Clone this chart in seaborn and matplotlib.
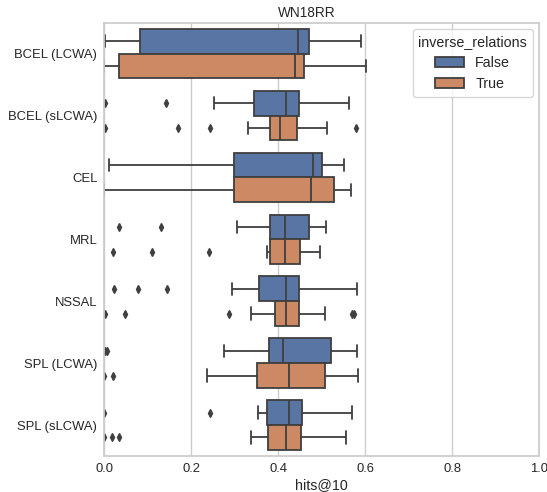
import matplotlib
matplotlib.use("Agg")
import matplotlib.pyplot as plt
import pandas as pd
import seaborn as sns

# hits@10 on WN18RR per loss / training approach, split by use of inverse relations
models = ["BCEL (LCWA)", "BCEL (sLCWA)", "CEL", "MRL", "NSSAL", "SPL (LCWA)", "SPL (sLCWA)"]
inverse_flags = [False, True]

bcel_lcwa_false = [0.001, 0.020, 0.045, 0.070, 0.083, 0.180, 0.300, 0.400, 0.445,
                   0.452, 0.458, 0.465, 0.471, 0.500, 0.530, 0.560, 0.591]
bcel_lcwa_true = [0.000, 0.008, 0.015, 0.025, 0.033, 0.120, 0.250, 0.360, 0.439,
                  0.444, 0.449, 0.455, 0.460, 0.490, 0.530, 0.570, 0.601]
bcel_slcwa_false = [0.002, 0.141, 0.251, 0.310, 0.345, 0.370, 0.390, 0.405, 0.418,
                    0.425, 0.432, 0.440, 0.447, 0.480, 0.510, 0.540, 0.563]
bcel_slcwa_true = [0.002, 0.169, 0.244, 0.330, 0.382, 0.390, 0.396, 0.400, 0.405,
                   0.415, 0.425, 0.435, 0.444, 0.470, 0.490, 0.511, 0.578]
cel_false = [0.011, 0.080, 0.160, 0.240, 0.297, 0.350, 0.400, 0.440, 0.480,
             0.485, 0.490, 0.495, 0.500, 0.515, 0.530, 0.540, 0.550]
cel_true = [0.000, 0.070, 0.150, 0.230, 0.297, 0.340, 0.390, 0.440, 0.474,
            0.490, 0.500, 0.515, 0.527, 0.540, 0.550, 0.560, 0.567]
mrl_false = [0.034, 0.130, 0.306, 0.350, 0.380, 0.390, 0.400, 0.410, 0.416,
             0.430, 0.445, 0.460, 0.470, 0.480, 0.490, 0.500, 0.510]
mrl_true = [0.020, 0.109, 0.241, 0.374, 0.382, 0.390, 0.400, 0.410, 0.416,
            0.425, 0.435, 0.440, 0.449, 0.460, 0.470, 0.485, 0.496]
nssal_false = [0.022, 0.077, 0.143, 0.294, 0.356, 0.370, 0.390, 0.405, 0.418,
               0.425, 0.435, 0.440, 0.448, 0.480, 0.510, 0.550, 0.580]
nssal_true = [0.002, 0.047, 0.287, 0.337, 0.392, 0.400, 0.405, 0.410, 0.418,
              0.425, 0.435, 0.440, 0.448, 0.470, 0.507, 0.569, 0.574]
spl_lcwa_false = [0.002, 0.007, 0.274, 0.330, 0.379, 0.390, 0.400, 0.405, 0.411,
                  0.440, 0.470, 0.500, 0.520, 0.540, 0.555, 0.570, 0.580]
spl_lcwa_true = [0.000, 0.019, 0.237, 0.300, 0.351, 0.370, 0.390, 0.410, 0.424,
                 0.450, 0.470, 0.490, 0.508, 0.530, 0.550, 0.570, 0.584]
spl_slcwa_false = [0.000, 0.243, 0.354, 0.365, 0.375, 0.390, 0.400, 0.415, 0.425,
                   0.435, 0.440, 0.448, 0.454, 0.480, 0.510, 0.540, 0.569]
spl_slcwa_true = [0.000, 0.018, 0.034, 0.337, 0.376, 0.390, 0.400, 0.410, 0.418,
                  0.425, 0.435, 0.445, 0.451, 0.480, 0.510, 0.530, 0.556]

runs = {
    ("BCEL (LCWA)", False): bcel_lcwa_false,
    ("BCEL (LCWA)", True): bcel_lcwa_true,
    ("BCEL (sLCWA)", False): bcel_slcwa_false,
    ("BCEL (sLCWA)", True): bcel_slcwa_true,
    ("CEL", False): cel_false,
    ("CEL", True): cel_true,
    ("MRL", False): mrl_false,
    ("MRL", True): mrl_true,
    ("NSSAL", False): nssal_false,
    ("NSSAL", True): nssal_true,
    ("SPL (LCWA)", False): spl_lcwa_false,
    ("SPL (LCWA)", True): spl_lcwa_true,
    ("SPL (sLCWA)", False): spl_slcwa_false,
    ("SPL (sLCWA)", True): spl_slcwa_true,
}

rows = []
for (model, inv), values in runs.items():
    for v in values:
        rows.append({"loss": model, "inverse_relations": inv, "hits@10": v})
df = pd.DataFrame(rows)

sns.set_theme(style="whitegrid")
plt.rcParams["font.family"] = ["Liberation Sans", "DejaVu Sans"]
plt.rcParams.update({
    "xtick.labelsize": 9.4, "ytick.labelsize": 9.4,
    "axes.labelsize": 10.3, "axes.titlesize": 9.8,
    "legend.fontsize": 10.3, "legend.title_fontsize": 10.3,
})

fig = plt.figure(figsize=(5.47, 4.92), dpi=100)
ax = fig.add_axes([0.1907, 0.0732, 0.7953, 0.8807])

sns.boxplot(
    data=df, x="hits@10", y="loss", hue="inverse_relations",
    order=models, hue_order=inverse_flags, orient="h", ax=ax,
    linecolor="#3f3f3f", linewidth=1.3,
    flierprops=dict(marker="d", markersize=4, markerfacecolor="#3f3f3f",
                    markeredgecolor="#3f3f3f"),
)

ax.set_xlim(0, 1.0)
ax.set_ylabel("")
ax.set_xlabel("hits@10", labelpad=2)
ax.set_title("WN18RR", x=0.466, pad=4)
ax.tick_params(axis="both", length=0, pad=5)
ax.legend(title="inverse_relations", loc="upper right", borderaxespad=0.45)

fig.savefig("out.png", dpi=100)
